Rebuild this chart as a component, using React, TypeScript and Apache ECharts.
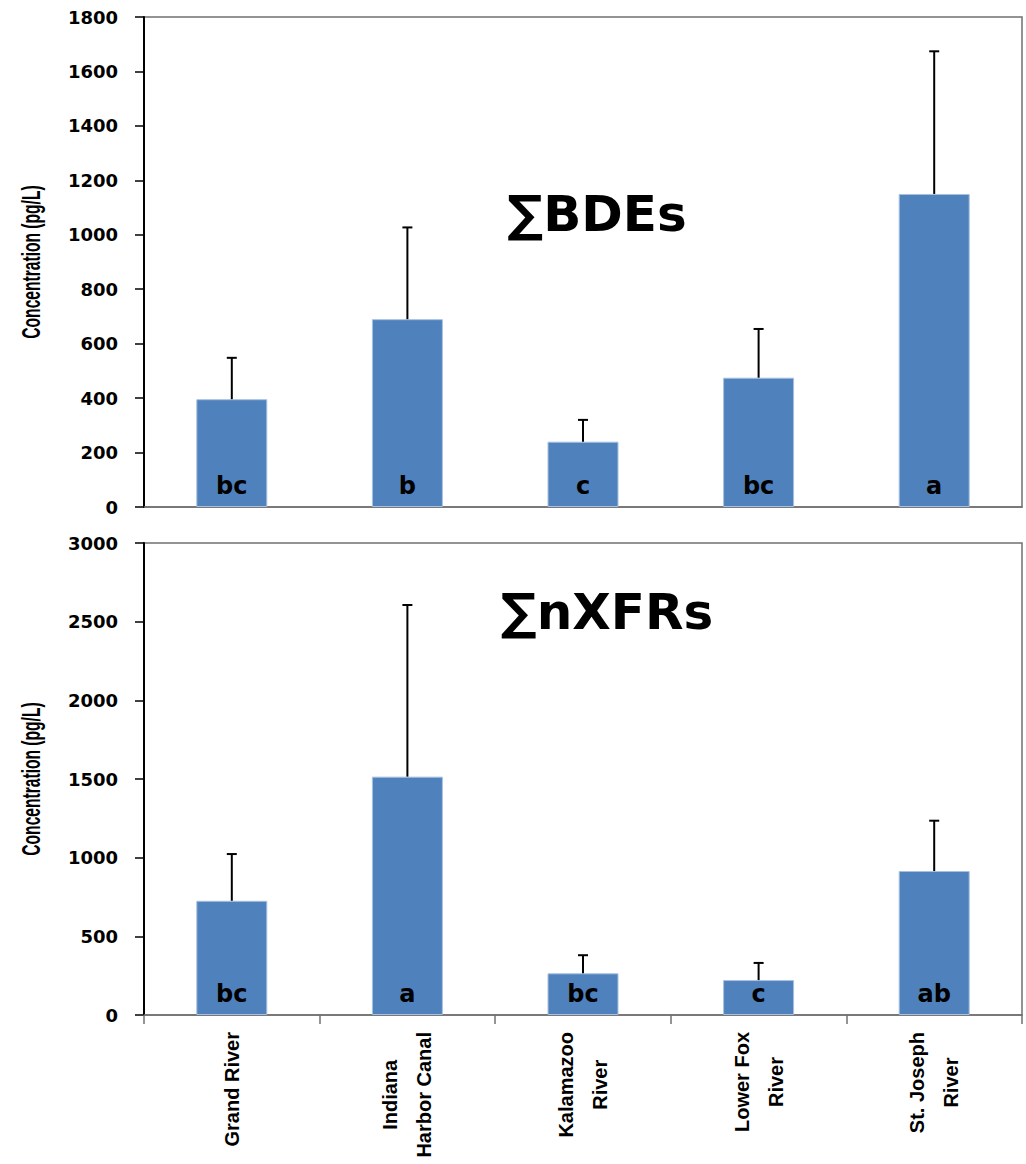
import React, { useEffect, useRef } from "react";
import * as echarts from "echarts";

const categories = ["Grand River", "Indiana Harbor Canal", "Kalamazoo River", "Lower Fox River", "St. Joseph River"];
const categoryLabelLines = [["Grand River"], ["Indiana", "Harbor Canal"], ["Kalamazoo", "River"], ["Lower Fox", "River"], ["St. Joseph", "River"]];

const bdeMeans = [396, 690, 240, 475, 1150];
const bdeErrors = [152, 337, 80, 179, 524];
const bdeLetters = ["bc", "b", "c", "bc", "a"];

const xfrMeans = [726, 1515, 265, 222, 915];
const xfrErrors = [297, 1091, 115, 109, 320];
const xfrLetters = ["bc", "a", "bc", "c", "ab"];

const bdeAxis = { min: 0, max: 1800, interval: 200 };
const xfrAxis = { min: 0, max: 3000, interval: 500 };

const titles = ["\u2211BDEs", "\u2211nXFRs"];
const yName = "Concentration (pg/L)";

const WIDE = "'DejaVu Sans', Verdana, sans-serif";
const NARROW = "'Liberation Sans Narrow', 'Arial Narrow', 'Liberation Sans', Arial, sans-serif";
const BAR_COLOR = "#4F81BD";

function errorSeries(means: number[], errors: number[], idx: number) {
  return {
    type: "custom",
    xAxisIndex: idx,
    yAxisIndex: idx,
    z: 5,
    encode: { x: 0, y: 1 },
    data: means.map((m, i) => [i, m, errors[i]]),
    renderItem: (params: any, api: any) => {
      const x = api.value(0);
      const mean = api.value(1);
      const err = api.value(2);
      const base = api.coord([x, mean]);
      const top = api.coord([x, mean + err]);
      return {
        type: "group",
        children: [
          { type: "line", shape: { x1: base[0], y1: base[1], x2: top[0], y2: top[1] }, style: { stroke: "#000", lineWidth: 2 } },
          { type: "line", shape: { x1: top[0] - 5, y1: top[1], x2: top[0] + 5, y2: top[1] }, style: { stroke: "#000", lineWidth: 2 } },
        ],
      };
    },
  };
}

function barSeries(means: number[], letters: string[], idx: number) {
  return {
    type: "bar",
    xAxisIndex: idx,
    yAxisIndex: idx,
    barWidth: 71,
    data: means,
    itemStyle: { color: BAR_COLOR, borderColor: "#a9c1e0", borderWidth: 1 },
    label: {
      show: true,
      position: "insideBottom",
      distance: 9,
      formatter: (p: any) => letters[p.dataIndex],
      fontFamily: WIDE,
      fontWeight: "bold",
      fontSize: 24,
      color: "#000",
    },
  };
}

function yAxis(idx: number, cfg: { min: number; max: number; interval: number }) {
  return {
    type: "value",
    gridIndex: idx,
    min: cfg.min,
    max: cfg.max,
    interval: cfg.interval,
    axisLine: { show: true, lineStyle: { color: "#000", width: 2 } },
    axisTick: { show: true, length: 9, lineStyle: { color: "#000", width: 1.5 } },
    axisLabel: {
      margin: 26,
      fontFamily: WIDE,
      fontWeight: "bold",
      fontSize: 18,
      color: "#000",
      formatter: (v: number) => String(v),
    },
    splitLine: { show: false },
  };
}

function yNameText(y: number) {
  return {
    type: "text",
    x: 32,
    y,
    rotation: Math.PI / 2,
    scaleX: 0.6,
    style: {
      text: yName,
      fontFamily: NARROW,
      fontWeight: "bold",
      fontSize: 26,
      fill: "#000",
      textAlign: "center",
      textVerticalAlign: "middle",
    },
  };
}

export default function App() {
  const ref = useRef<HTMLDivElement>(null);
  useEffect(() => {
    document.body.style.margin = "0";
    if (!ref.current) return;
    const chart = echarts.init(ref.current, undefined, { renderer: "svg" });
    const option: any = {
      animation: false,
      backgroundColor: "#fff",
      grid: [
        { left: 144, right: 4, top: 17, height: 490, outerBoundsMode: "none", containLabel: false, show: true, borderColor: "#707070", borderWidth: 1.5, backgroundColor: "transparent" },
        { left: 144, right: 4, top: 543, height: 472, outerBoundsMode: "none", containLabel: false, show: true, borderColor: "#707070", borderWidth: 1.5, backgroundColor: "transparent" },
      ],
      xAxis: [
        {
          type: "category",
          gridIndex: 0,
          data: categories,
          axisLine: { lineStyle: { color: "#707070", width: 1.5 } },
          axisTick: { show: false },
          axisLabel: { show: false },
        },
        {
          type: "category",
          gridIndex: 1,
          data: categories,
          axisLine: { lineStyle: { color: "#707070", width: 1.5 } },
          axisTick: { show: true, length: 9, alignWithLabel: false, lineStyle: { color: "#707070", width: 1.5 } },
          axisLabel: {
            rotate: 90,
            margin: 17,
            interval: 0,
            formatter: (_v: string, i: number) => categoryLabelLines[i].map((l) => "{c|" + l + "}").join("\n"),
            rich: {
              c: { align: "center", fontFamily: NARROW, fontWeight: "bold", fontSize: 20, lineHeight: 34, color: "#000" },
            },
          },
        },
      ],
      yAxis: [yAxis(0, bdeAxis), yAxis(1, xfrAxis)],
      series: [
        barSeries(bdeMeans, bdeLetters, 0),
        errorSeries(bdeMeans, bdeErrors, 0),
        barSeries(xfrMeans, xfrLetters, 1),
        errorSeries(xfrMeans, xfrErrors, 1),
      ],
      graphic: [
        yNameText(262),
        yNameText(779),
        {
          type: "text",
          x: 597,
          y: 214,
          style: { text: titles[0], fontFamily: WIDE, fontWeight: "bold", fontSize: 50, fill: "#000", textAlign: "center", textVerticalAlign: "middle" },
        },
        {
          type: "text",
          x: 607,
          y: 612,
          style: { text: titles[1], fontFamily: WIDE, fontWeight: "bold", fontSize: 50, fill: "#000", textAlign: "center", textVerticalAlign: "middle" },
        },
      ],
    };
    chart.setOption(option);
    return () => chart.dispose();
  }, []);
  return <div ref={ref} style={{ width: 1026, height: 1164 }} />;
}
